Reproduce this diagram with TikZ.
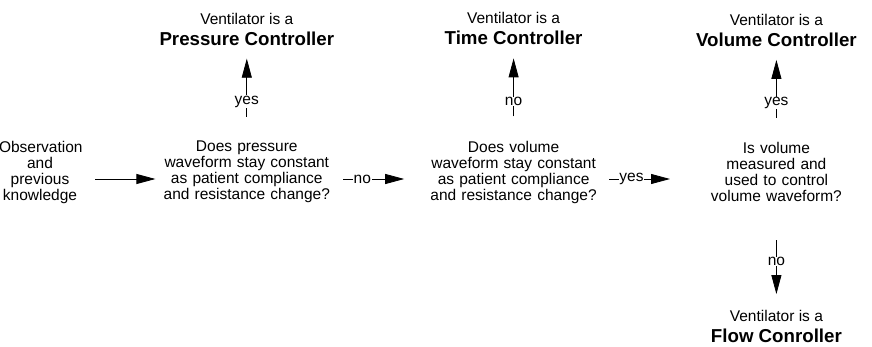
\documentclass[tikz,border=0pt]{standalone}
\usepackage{fontspec}
\setmainfont{Liberation Sans}
\usetikzlibrary{arrows.meta,positioning}

\newcommand{\ctrlname}[1]{{\fontsize{18.7}{21}\selectfont\bfseries #1}}

\begin{document}
\begin{tikzpicture}[>={Triangle[length=19pt,width=10pt]},x=1pt,y=-1pt,line width=0.8pt,
    font=\fontsize{15.5}{16}\selectfont,
    box/.style={align=center,inner sep=0pt},
    question/.style={box,text width=172pt},
    answer/.style={fill=white,inner sep=0.6pt}]

    \useasboundingbox (0,0) rectangle (872,347);

    \node[box,text width=82pt] (obs) at (40,172) {Observation\\and\\previous\\knowledge};

    \node[question] (q1) [right=79pt of obs] {Does pressure\\waveform stay constant\\as patient compliance\\and resistance change?};
    \node[question] (q2) [right=94pt of q1] {Does volume\\waveform stay constant\\as patient compliance\\and resistance change?};
    \node[question] (q3) [right=90pt of q2] {Is volume\\measured and\\used to control\\volume waveform?};

    \node[box] (pc) [above=95pt of q1] {Ventilator is a\\[5pt]\ctrlname{Pressure Controller}};
    \node[box] (tc) [above=95pt of q2] {Ventilator is a\\[5pt]\ctrlname{Time Controller}};
    \node[box] (vc) [above=95pt of q3] {Ventilator is a\\[5pt]\ctrlname{Volume Controller}};
    \node[box] (fc) [below=108pt of q3] {Ventilator is a\\[5pt]\ctrlname{Flow Conroller}};

    \draw[->,shorten <=14pt,shorten >=5pt] ([yshift=-7pt]obs.east) -- ([yshift=-7pt]q1.west);
    \draw[->,shorten <=10pt,shorten >=23pt] ([yshift=-7pt]q1.east) -- node[answer,pos=0.31] {no} ([yshift=-7pt]q2.west);
    \draw[->,shorten <=9pt,shorten >=20pt] ([yshift=-7pt]q2.east) -- node[answer,pos=0.35] {yes} ([yshift=-7pt]q3.west);

    \draw[->,shorten <=24pt,shorten >=13pt] (q1.north) -- node[answer,pos=0.41] {yes} (pc.south);
    \draw[->,shorten <=24pt,shorten >=13pt] (q2.north) -- node[answer,pos=0.41] {no} (tc.south);
    \draw[->,shorten <=24pt,shorten >=13pt] (q3.north) -- node[answer,pos=0.41] {yes} (vc.south);
    \draw[->,shorten <=38pt,shorten >=16pt] (q3.south) -- node[answer,pos=0.55] {no} (fc.north);

\end{tikzpicture}
\end{document}
